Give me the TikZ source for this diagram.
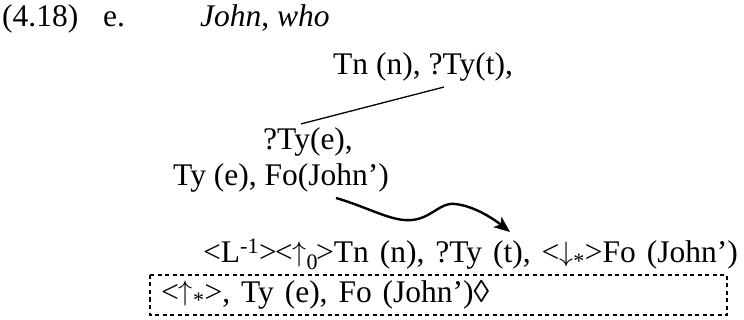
\documentclass[tikz,border=0pt]{standalone}
\usepackage{fontspec}
\setmainfont{Liberation Serif}
\usetikzlibrary{arrows.meta}
\newcommand{\upar}{\raisebox{1.5pt}{\resizebox*{!}{25pt}{$\uparrow$}}}
\newcommand{\dnar}{\raisebox{1.5pt}{\resizebox*{!}{25pt}{$\downarrow$}}}
\newcommand{\widesp}{\spaceskip=10.9pt\relax}
\begin{document}
\begin{tikzpicture}[x=1pt,y=-1pt,
  txt/.style={inner sep=0pt, anchor=base west, font=\fontsize{31.5}{36}\selectfont},
  treeline/.style={line width=1.3pt},
  curvy/.style={line width=2.4pt, -{Stealth[length=16pt,width=13pt,inset=4pt]}},
  dashbox/.style={line width=2pt, dash pattern=on 4pt off 3.5pt}]
\useasboundingbox (0,0) rectangle (744,320);
\node[txt] (ex) at (2,27) {(4.18)};
\node[txt] (lab) at (103,27) {e.};
\node[txt] (gloss) at (200,27) {\textit{John}, \textit{who}};
\node[txt] (top) at (333,75) {Tn (n), ?Ty(t),};
\node[txt] (q) at (263,150) {?Ty(e),};
\node[txt] (fo) at (173,186) {Ty (e), Fo(John’)};
\node[txt] (lnk) at (203,263) {\widesp <L\textsuperscript{-1}>\kern-2pt<\upar\textsubscript{0}\kern-2pt>Tn (n), ?Ty (t), <\dnar\textsubscript{*}>Fo (John’)};
\node[txt] (cur) at (161,302) {\widesp <\upar\textsubscript{*}>, Ty (e), Fo (John’)◊};
\coordinate (tip) at (510,232);
\draw[treeline] ([xshift=-7pt,yshift=4pt]q.north) -- ([xshift=21pt,yshift=-5pt]top.south);
\draw[curvy] ([xshift=55pt,yshift=-5pt]fo.south) .. controls (370,208) and (392,222) .. (412,220)
  .. controls (432,218) and (440,202) .. (455,204) .. controls (475,206) and (495,220) .. (tip);
\draw[dashbox] (150,275) rectangle (727,315);
\end{tikzpicture}
\end{document}
